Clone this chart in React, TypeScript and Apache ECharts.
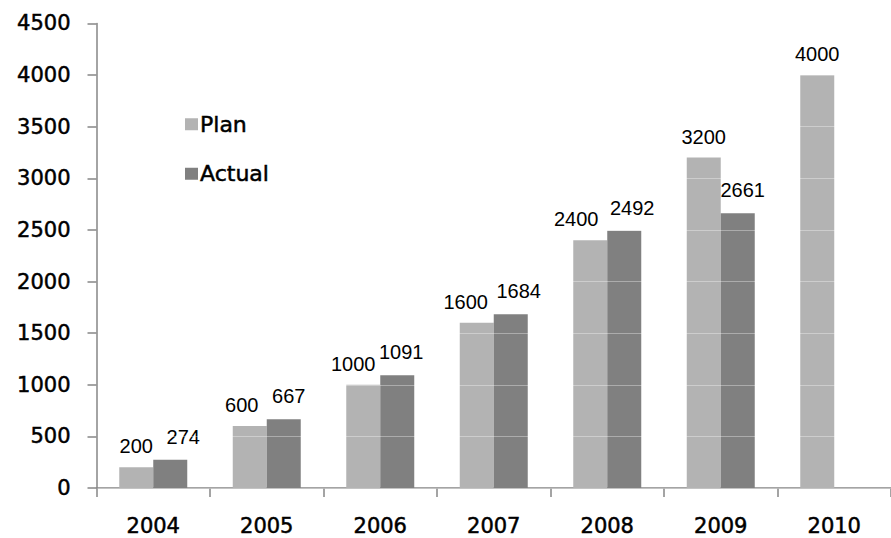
import React, { useEffect, useRef } from "react";
import * as echarts from "echarts";

const years = ["2004", "2005", "2006", "2007", "2008", "2009", "2010"];
const planValues = [200, 600, 1000, 1600, 2400, 3200, 4000];
const actualValues: (number | null)[] = [274, 667, 1091, 1684, 2492, 2661, null];
const seriesNames = ["Plan", "Actual"];
const yMin = 0;
const yMax = 4500;
const yInterval = 500;

// horizontal nudges of the value labels (style only), as in the source picture
const planLabelDx = [0, -8, -10, -11, -14, 0, 0];
const actualLabelDx = [13, 5, 4, 8, 8, 5, 0];

export default function App() {
  const ref = useRef<HTMLDivElement>(null);
  useEffect(() => {
    if (!ref.current) return;
    const chart = echarts.init(ref.current, undefined, { renderer: "svg" });
    const axisFont = "'DejaVu Sans', Arial, sans-serif";
    const labelFont = "'Liberation Sans', Arial, sans-serif";
    const thick = { textBorderColor: "#000", textBorderWidth: 0.5 };
    chart.setOption({
      animation: false,
      backgroundColor: "#ffffff",
      grid: { left: 96.5, right: -28, top: 23.4, bottom: 50, containLabel: false },
      legend: {
        orient: "vertical",
        left: 180,
        top: 108,
        icon: "rect",
        itemWidth: 13,
        itemHeight: 12,
        itemGap: 27,
        textStyle: {
          fontFamily: axisFont,
          fontSize: 22,
          color: "#000",
          padding: [0, 0, 0, -3],
          ...thick,
        },
        data: seriesNames,
      },
      xAxis: {
        type: "category",
        data: years,
        boundaryGap: true,
        axisLine: { show: true, lineStyle: { color: "#868686", width: 1.5 } },
        axisTick: { show: true, length: 9, lineStyle: { color: "#868686", width: 1.5 } },
        axisLabel: {
          margin: 27,
          fontFamily: axisFont,
          fontSize: 21,
          color: "#000",
          ...thick,
        },
        splitLine: { show: false },
      },
      yAxis: {
        type: "value",
        min: yMin,
        max: yMax,
        interval: yInterval,
        z: 3,
        axisLine: { show: true, lineStyle: { color: "#868686", width: 1.5 } },
        axisTick: { show: true, length: 9, lineStyle: { color: "#868686", width: 1.5 } },
        axisLabel: {
          margin: 26,
          fontFamily: axisFont,
          fontSize: 21,
          color: "#000",
          formatter: (v: number) => String(v),
          ...thick,
        },
        splitLine: { show: true, lineStyle: { color: "rgba(255,255,255,0.35)", width: 1 } },
      },
      series: [
        {
          name: seriesNames[0],
          type: "bar",
          data: planValues.map((v, i) => ({
            value: v,
            label: { offset: [planLabelDx[i], 0] },
          })),
          barWidth: 34,
          barGap: "0%",
          itemStyle: { color: "#b3b3b3" },
          label: {
            show: true,
            position: "top",
            distance: 11,
            fontFamily: labelFont,
            fontSize: 20,
            color: "#000",
          },
        },
        {
          name: seriesNames[1],
          type: "bar",
          data: actualValues.map((v, i) => ({
            value: v,
            label: { offset: [actualLabelDx[i], 0] },
          })),
          barWidth: 34,
          barGap: "0%",
          itemStyle: { color: "#808080" },
          label: {
            show: true,
            position: "top",
            distance: 13,
            fontFamily: labelFont,
            fontSize: 20,
            color: "#000",
          },
        },
      ],
    });
    return () => chart.dispose();
  }, []);
  return (
    <div
      ref={ref}
      style={{ position: "fixed", left: 0, top: 0, width: 891, height: 538, background: "#fff" }}
    />
  );
}
